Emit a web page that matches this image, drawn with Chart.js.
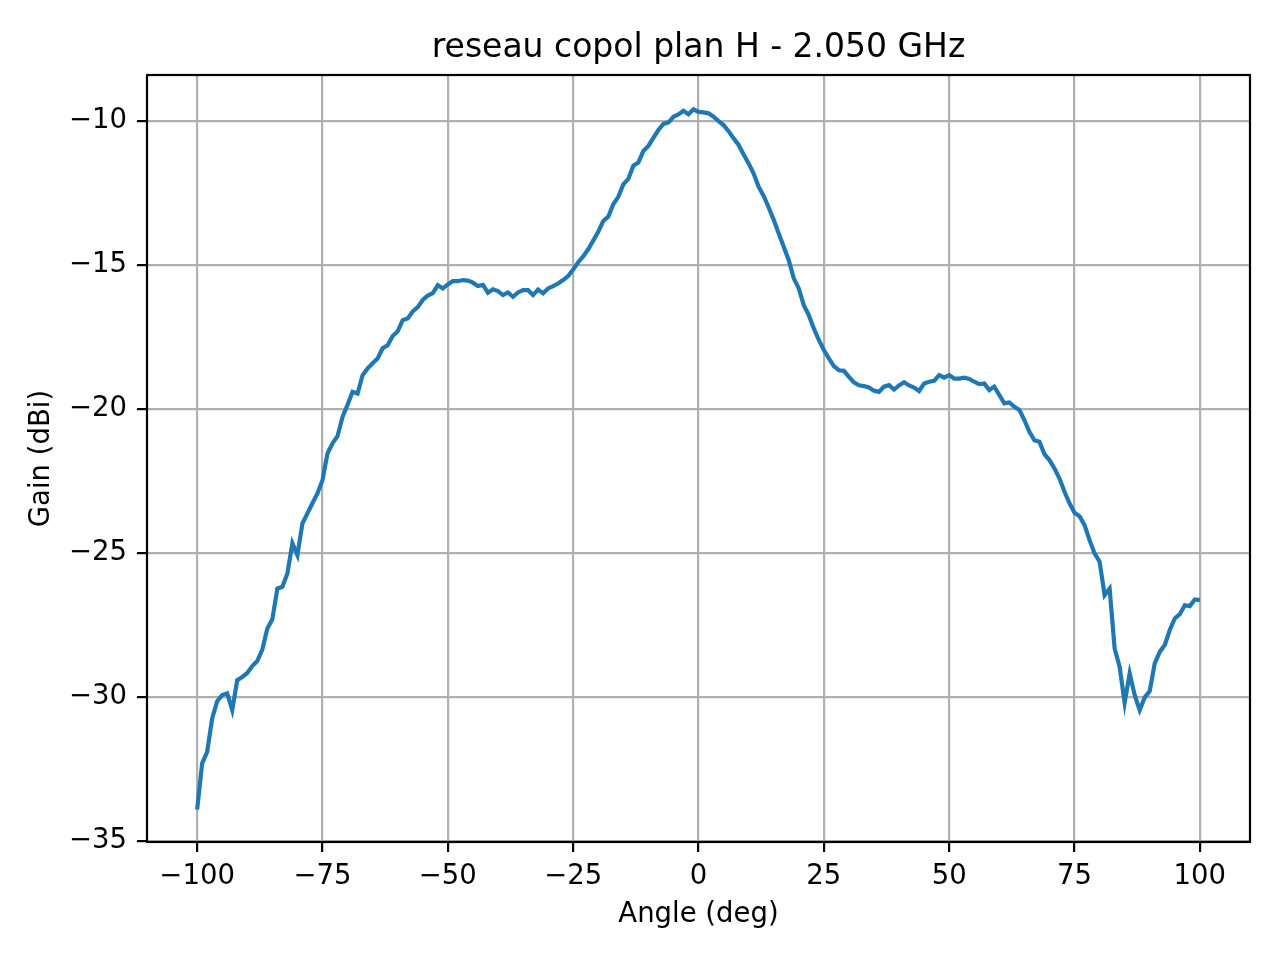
<!DOCTYPE html>
<html>
<head>
<meta charset="utf-8">
<title>reseau copol plan H - 2.050 GHz</title>
<script src="https://cdn.jsdelivr.net/npm/chart.js@4/dist/chart.umd.min.js"></script>
<style>
  html, body { margin: 0; padding: 0; background: #fff; }
  #wrap { width: 1280px; height: 960px; }
</style>
</head>
<body>
<div id="wrap"><canvas id="chart" width="1280" height="960"></canvas></div>
<script>
const chartTitle = 'reseau copol plan H - 2.050 GHz'

const angles = [
  -100, -99, -98, -97, -96, -95, -94, -93, -92, -91, -90, -89, -88, -87, -86, -85, -84, -83, -82, -81,
  -80, -79, -78, -77, -76, -75, -74, -73, -72, -71, -70, -69, -68, -67, -66, -65, -64, -63, -62, -61,
  -60, -59, -58, -57, -56, -55, -54, -53, -52, -51, -50, -49, -48, -47, -46, -45, -44, -43, -42, -41,
  -40, -39, -38, -37, -36, -35, -34, -33, -32, -31, -30, -29, -28, -27, -26, -25, -24, -23, -22, -21,
  -20, -19, -18, -17, -16, -15, -14, -13, -12, -11, -10, -9, -8, -7, -6, -5, -4, -3, -2, -1,
  0, 1, 2, 3, 4, 5, 6, 7, 8, 9, 10, 11, 12, 13, 14, 15, 16, 17, 18, 19,
  20, 21, 22, 23, 24, 25, 26, 27, 28, 29, 30, 31, 32, 33, 34, 35, 36, 37, 38, 39,
  40, 41, 42, 43, 44, 45, 46, 47, 48, 49, 50, 51, 52, 53, 54, 55, 56, 57, 58, 59,
  60, 61, 62, 63, 64, 65, 66, 67, 68, 69, 70, 71, 72, 73, 74, 75, 76, 77, 78, 79,
  80, 81, 82, 83, 84, 85, 86, 87, 88, 89, 90, 91, 92, 93, 94, 95, 96, 97, 98, 99,
  100
]

const gainDbi = [
  -33.90, -32.30, -31.90, -30.74, -30.14, -29.93, -29.87, -30.45, -29.41, -29.30,
  -29.16, -28.92, -28.75, -28.35, -27.62, -27.30, -26.23, -26.17, -25.71, -24.66,
  -25.07, -23.97, -23.62, -23.27, -22.93, -22.47, -21.54, -21.19, -20.94, -20.27,
  -19.85, -19.40, -19.46, -18.82, -18.59, -18.41, -18.24, -17.89, -17.78, -17.46,
  -17.30, -16.91, -16.85, -16.61, -16.46, -16.21, -16.06, -15.97, -15.70, -15.81,
  -15.67, -15.56, -15.56, -15.52, -15.54, -15.61, -15.73, -15.69, -15.96, -15.84,
  -15.90, -16.04, -15.95, -16.10, -15.95, -15.87, -15.87, -16.04, -15.85, -15.98,
  -15.81, -15.73, -15.64, -15.52, -15.38, -15.15, -14.90, -14.70, -14.45, -14.15,
  -13.84, -13.47, -13.32, -12.89, -12.63, -12.20, -12.01, -11.55, -11.44, -11.04,
  -10.86, -10.58, -10.31, -10.10, -10.05, -9.85, -9.77, -9.64, -9.76, -9.59,
  -9.68, -9.70, -9.73, -9.85, -10.00, -10.14, -10.35, -10.60, -10.83, -11.16,
  -11.47, -11.82, -12.28, -12.60, -13.00, -13.43, -13.90, -14.36, -14.83, -15.46,
  -15.81, -16.39, -16.74, -17.20, -17.60, -17.95, -18.24, -18.51, -18.65, -18.67,
  -18.88, -19.07, -19.17, -19.20, -19.25, -19.36, -19.40, -19.22, -19.17, -19.32,
  -19.18, -19.07, -19.18, -19.25, -19.37, -19.11, -19.05, -19.02, -18.82, -18.91,
  -18.82, -18.94, -18.94, -18.91, -18.95, -19.05, -19.13, -19.11, -19.34, -19.22,
  -19.51, -19.80, -19.77, -19.92, -20.03, -20.38, -20.79, -21.08, -21.13, -21.56,
  -21.77, -22.06, -22.41, -22.87, -23.27, -23.60, -23.72, -24.03, -24.55, -25.01,
  -25.30, -26.46, -26.23, -28.31, -28.95, -30.20, -29.18, -29.93, -30.45, -30.01,
  -29.79, -28.83, -28.43, -28.19, -27.67, -27.27, -27.12, -26.81, -26.84, -26.61,
  -26.63
]

const xTicks = [-100, -75, -50, -25, 0, 25, 50, 75, 100]
const yTicks = [-35, -30, -25, -20, -15, -10]

const fontFamily = "'DejaVu Sans', 'Liberation Sans', sans-serif"

// matplotlib style minus sign
function fmtTick(v) {
  return v < 0 ? '\u2212' + Math.abs(v) : String(v)
}

// title centred over the plot area, plus the full axes frame
const axesDecor = {
  id: 'axesDecor',
  afterDraw(chart) {
    const { ctx, chartArea } = chart
    ctx.save()
    ctx.strokeStyle = '#000'
    ctx.lineWidth = 2.2
    ctx.strokeRect(chartArea.left, chartArea.top, chartArea.right - chartArea.left, chartArea.bottom - chartArea.top)
    ctx.fillStyle = '#000'
    ctx.font = '33px ' + fontFamily
    ctx.textAlign = 'center'
    ctx.textBaseline = 'middle'
    ctx.fillText(chartTitle, (chartArea.left + chartArea.right) / 2, chartArea.top - 27)
    ctx.restore()
  }
}

const ctx = document.getElementById('chart').getContext('2d')

new Chart(ctx, {
  type: 'line',
  data: {
    datasets: [{
      data: angles.map((a, i) => ({ x: a, y: gainDbi[i] })),
      borderColor: '#1f77b4',
      borderWidth: 4.2,
      pointRadius: 0,
      tension: 0,
      fill: false
    }]
  },
  options: {
    responsive: false,
    animation: false,
    devicePixelRatio: 1,
    layout: {
      padding: { top: 75, right: 30, bottom: 0, left: 0 }
    },
    plugins: {
      legend: { display: false },
      title: { display: false },
      tooltip: { enabled: false }
    },
    scales: {
      x: {
        type: 'linear',
        min: -110,
        max: 110,
        afterBuildTicks: (scale) => { scale.ticks = xTicks.map(v => ({ value: v })) },
        afterFit: (scale) => { scale.height = 118 },
        grid: {
          color: '#b0b0b0',
          lineWidth: 2.2,
          tickColor: '#000',
          tickLength: 10,
          tickWidth: 2.2
        },
        border: { display: false },
        ticks: {
          color: '#000',
          padding: 8,
          maxRotation: 0,
          font: { family: fontFamily, size: 27.5 },
          callback: (v) => fmtTick(v)
        },
        title: {
          display: true,
          text: 'Angle (deg)',
          color: '#000',
          padding: { top: 0, bottom: 29 },
          font: { family: fontFamily, size: 27.5 }
        }
      },
      y: {
        type: 'linear',
        min: -35.03,
        max: -8.40,
        afterBuildTicks: (scale) => { scale.ticks = yTicks.map(v => ({ value: v })) },
        afterFit: (scale) => { scale.width = 147 },
        grid: {
          color: '#b0b0b0',
          lineWidth: 2.2,
          tickColor: '#000',
          tickLength: 10,
          tickWidth: 2.2
        },
        border: { display: false },
        ticks: {
          color: '#000',
          padding: 10,
          font: { family: fontFamily, size: 27.5 },
          callback: (v) => fmtTick(v)
        },
        title: {
          display: true,
          text: 'Gain (dBi)',
          color: '#000',
          padding: { top: 25, bottom: 0 },
          font: { family: fontFamily, size: 27.5 }
        }
      }
    }
  },
  plugins: [axesDecor]
})
</script>
</body>
</html>
